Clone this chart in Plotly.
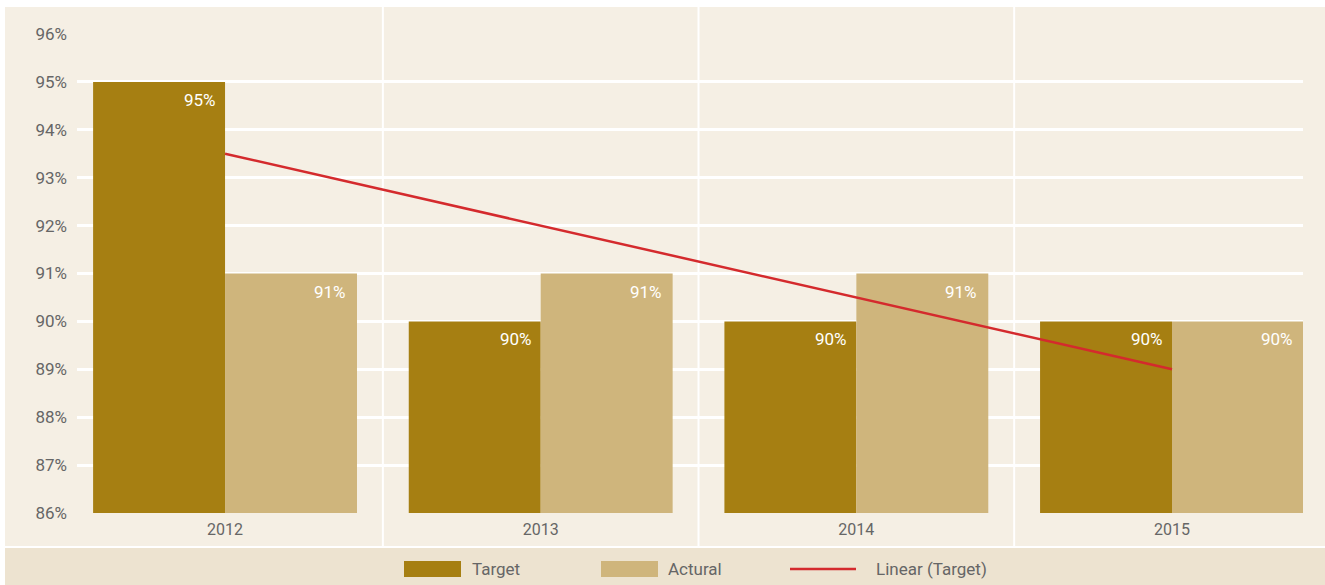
import numpy as np
import plotly.graph_objects as go

# Chart data
years = ["2012", "2013", "2014", "2015"]
target = [95, 90, 90, 90]
actual = [91, 91, 91, 90]
y_ticks = [86, 87, 88, 89, 90, 91, 92, 93, 94, 95, 96]

# Colours
C_TARGET = "#a67f12"
C_ACTUAL = "#cfb57c"
C_TREND = "#d42a2d"
C_BG = "#f5efe4"
C_LEGEND_BG = "#ede3d0"
C_TEXT = "#666666"
FONT = "Roboto"

W, H = 1325, 585
ML, MR, MT, MB = 77, 22, 34, 72
PW, PH = W - ML - MR, H - MT - MB


def px_x(px):
    return (px - ML) / PW


def px_y(py):
    return (H - MB - py) / PH


# Linear trend of the target series
xi = np.arange(1, len(target) + 1)
slope, intercept = np.polyfit(xi, target, 1)
trend = slope * xi + intercept

fig = go.Figure()
fig.add_trace(go.Bar(x=years, y=target, name="Target", marker_color=C_TARGET,
                     marker_line_width=0, hoverinfo="skip"))
fig.add_trace(go.Bar(x=years, y=actual, name="Actural", marker_color=C_ACTUAL,
                     marker_line_width=0, hoverinfo="skip"))
fig.add_trace(go.Scatter(x=years, y=trend, mode="lines", name="Linear (Target)",
                         line=dict(color=C_TREND, width=2.5), hoverinfo="skip"))

shapes = [
    # chart background panel and legend band
    dict(type="rect", xref="paper", yref="paper", x0=px_x(5), x1=px_x(W),
         y0=px_y(546), y1=px_y(7), fillcolor=C_BG, line_width=0, layer="below"),
    dict(type="rect", xref="paper", yref="paper", x0=px_x(5), x1=px_x(W),
         y0=px_y(H), y1=px_y(548), fillcolor=C_LEGEND_BG, line_width=0, layer="below"),
]
# vertical separators between year groups
for k in range(len(years) - 1):
    xp = (k + 0.5 + 0.469) / (len(years) - 1 + 0.469 + 0.415)
    shapes.append(dict(type="line", xref="paper", yref="paper", x0=xp, x1=xp,
                       y0=px_y(546), y1=px_y(7), line=dict(color="white", width=2),
                       layer="below"))

annotations = []
# value labels inside bars, aligned to the upper right corner
for i, v in enumerate(target):
    annotations.append(dict(x=i, y=v, xref="x", yref="y", text=f"{v}%",
                            showarrow=False, xanchor="right", yanchor="top",
                            xshift=-7, yshift=-6,
                            font=dict(family=FONT, size=17, color="white")))
for i, v in enumerate(actual):
    annotations.append(dict(x=i, y=v, xref="x", yref="y", text=f"{v}%",
                            showarrow=False, xanchor="right", yanchor="top",
                            xshift=123, yshift=-6,
                            font=dict(family=FONT, size=17, color="white")))

# legend in the bottom band
leg_y = px_y(569)
legend_items = [
    ("Target", "box", C_TARGET, 404, 461, 470),
    ("Actural", "box", C_ACTUAL, 601, 658, 666),
    ("Linear (Target)", "line", C_TREND, 790, 856, 874),
]
for label, kind, col, x0, x1, tx in legend_items:
    if kind == "box":
        shapes.append(dict(type="rect", xref="paper", yref="paper",
                           x0=px_x(x0), x1=px_x(x1), y0=px_y(577), y1=px_y(561),
                           fillcolor=col, line_width=0))
    else:
        shapes.append(dict(type="line", xref="paper", yref="paper",
                           x0=px_x(x0), x1=px_x(x1), y0=leg_y, y1=leg_y,
                           line=dict(color=col, width=2.5)))
    annotations.append(dict(x=px_x(tx), y=leg_y, xref="paper", yref="paper",
                            text=label, showarrow=False, xanchor="left",
                            yanchor="middle",
                            font=dict(family=FONT, size=17, color=C_TEXT)))

fig.update_layout(
    width=W, height=H,
    margin=dict(l=ML, r=MR, t=MT, b=MB, pad=0),
    paper_bgcolor="white", plot_bgcolor="rgba(0,0,0,0)",
    barmode="group", bargap=0.164, bargroupgap=0,
    showlegend=False,
    shapes=shapes, annotations=annotations,
    font=dict(family=FONT, color=C_TEXT, size=16),
)
fig.update_xaxes(type="category", range=[-0.469, len(years) - 1 + 0.415],
                 showgrid=False, showline=False, zeroline=False, ticks="",
                 tickfont=dict(family=FONT, size=16, color=C_TEXT), ticklabelstandoff=5)
fig.update_yaxes(range=[86, 96], tickvals=y_ticks,
                 ticktext=[f"{t}%" for t in y_ticks],
                 showgrid=True, gridcolor="white", gridwidth=2.5,
                 zeroline=False, showline=False, ticks="",
                 tickfont=dict(family=FONT, size=17, color=C_TEXT),
                 ticklabelstandoff=9)

fig.write_html("out.html")
